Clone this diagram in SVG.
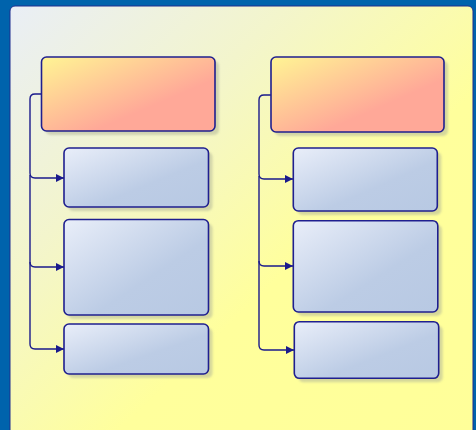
<svg xmlns="http://www.w3.org/2000/svg" width="476" height="430" viewBox="0 0 476 430">
<defs>
<linearGradient id="bg" x1="0" y1="0" x2="1" y2="1">
<stop offset="0" stop-color="#e9eef6"/>
<stop offset="0.3" stop-color="#f3f5cc"/>
<stop offset="0.6" stop-color="#ffff9c"/>
<stop offset="1" stop-color="#ffff99"/>
</linearGradient>
<linearGradient id="hdr" x1="0" y1="0" x2="1" y2="1">
<stop offset="0" stop-color="#fff594"/>
<stop offset="0.65" stop-color="#ffa898"/>
<stop offset="1" stop-color="#ffa898"/>
</linearGradient>
<linearGradient id="chd" x1="0" y1="0" x2="1" y2="1">
<stop offset="0" stop-color="#e9eef9"/>
<stop offset="0.6" stop-color="#bccce5"/>
<stop offset="1" stop-color="#b8c9e3"/>
</linearGradient>
<filter id="sh" x="-10%" y="-10%" width="130%" height="130%">
<feGaussianBlur stdDeviation="1.2"/>
</filter>
<marker id="arr" viewBox="0 0 10 10" refX="10" refY="5" markerWidth="8" markerHeight="8" markerUnits="userSpaceOnUse" orient="auto">
<path d="M0,0 L10,5 L0,10 Z" fill="#1a1a8c"/>
</marker>
</defs>
<style>
.hdr{fill:url(#hdr);stroke:#1f1f8f;stroke-width:1.6}
.chd{fill:url(#chd);stroke:#1f1f8f;stroke-width:1.6}
.sh{fill:#b4b89a;opacity:0.55;filter:url(#sh)}
.con{fill:none;stroke:#1a1a8c;stroke-width:1.4;marker-end:url(#arr)}
</style>
<rect x="0" y="0" width="476" height="430" fill="#0063ac"/>
<rect x="10" y="6" width="463" height="440" rx="5" fill="url(#bg)" stroke="#1f2f8f" stroke-width="1"/>
<g id="connectors">
<path class="con" d="M41.5 94 H35 Q30 94 30 99 V173 Q30 178 35 178 H64"/>
<path class="con" d="M30 175 V262 Q30 267 35 267 H64"/>
<path class="con" d="M30 262 V344 Q30 349 35 349 H64"/>
<path class="con" d="M271 95 H264 Q259 95 259 100 V174 Q259 179 264 179 H293"/>
<path class="con" d="M259 176 V261 Q259 266 264 266 H293"/>
<path class="con" d="M259 261 V345 Q259 350 264 350 H294"/>
</g>
<g id="left-header">
<rect class="sh" x="45.5" y="61" width="173.5" height="74" rx="5"/>
<rect class="hdr" x="41.5" y="57" width="173.5" height="74" rx="5"/>
</g>
<g id="left-child-1">
<rect class="sh" x="68" y="152" width="144.5" height="59" rx="5"/>
<rect class="chd" x="64" y="148" width="144.5" height="59" rx="5"/>
</g>
<g id="left-child-2">
<rect class="sh" x="68" y="223.5" width="144.5" height="95.5" rx="5"/>
<rect class="chd" x="64" y="219.5" width="144.5" height="95.5" rx="5"/>
</g>
<g id="left-child-3">
<rect class="sh" x="68" y="328" width="144.5" height="50" rx="5"/>
<rect class="chd" x="64" y="324" width="144.5" height="50" rx="5"/>
</g>
<g id="right-header">
<rect class="sh" x="275" y="61" width="173" height="75" rx="5"/>
<rect class="hdr" x="271" y="57" width="173" height="75" rx="5"/>
</g>
<g id="right-child-1">
<rect class="sh" x="297.3" y="152" width="144" height="63" rx="5"/>
<rect class="chd" x="293.3" y="148" width="144" height="63" rx="5"/>
</g>
<g id="right-child-2">
<rect class="sh" x="297.3" y="224.7" width="144.5" height="91.3" rx="5"/>
<rect class="chd" x="293.3" y="220.7" width="144.5" height="91.3" rx="5"/>
</g>
<g id="right-child-3">
<rect class="sh" x="298.3" y="325.7" width="144.4" height="56.6" rx="5"/>
<rect class="chd" x="294.3" y="321.7" width="144.4" height="56.6" rx="5"/>
</g>
</svg>
